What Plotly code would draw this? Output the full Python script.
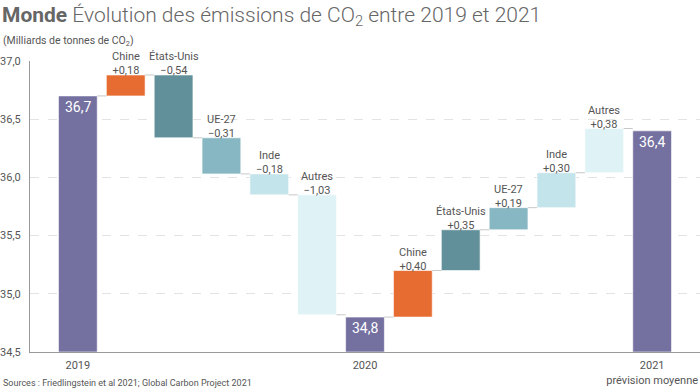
import plotly.graph_objects as go

categories = ["2019", "Chine", "États-Unis", "UE-27", "Inde", "Autres",
              "2020", "Chine", "États-Unis", "UE-27", "Inde", "Autres", "2021"]
kinds = ["total", "delta", "delta", "delta", "delta", "delta",
         "total", "delta", "delta", "delta", "delta", "delta", "total"]
values = [36.7, 0.18, -0.54, -0.31, -0.18, -1.03,
          34.8, 0.40, 0.35, 0.19, 0.30, 0.38, 36.4]
tick_vals_idx = [0, 6, 12]
tick_labels = ["2019", "2020", "2021<br>prévision moyenne"]

color_map = {
    "total": "#7470a0",
    "Chine": "#e66c32",
    "États-Unis": "#62909a",
    "UE-27": "#87b7c2",
    "Inde": "#c3e4ea",
    "Autres": "#dff2f6",
}

ymin = 34.5
GRAY = "#555555"
FONT = "Roboto"

W, H = 700, 391
ML, MR, MT, MB = 30, 0, 61, 39
PW, PH = W - ML - MR, H - MT - MB


def px_x(p):
    return (p - ML) / PW


def px_y(p):
    return (H - MB - p) / PH


bases, heights, colors, tops = [], [], [], []
level = 0.0
for cat, kind, v in zip(categories, kinds, values):
    if kind == "total":
        level = v
        bases.append(ymin)
        heights.append(v - ymin)
        colors.append(color_map["total"])
        tops.append(v)
    else:
        bases.append(level)
        heights.append(v)
        colors.append(color_map[cat])
        tops.append(max(level, level + v))
        level = level + v

x = list(range(len(categories)))

fig = go.Figure()
fig.add_trace(go.Bar(
    x=x, y=heights, base=bases,
    marker=dict(color=colors, line=dict(color="rgba(255,255,255,0.6)", width=1)),
    width=0.81, hoverinfo="skip", showlegend=False,
))

# connectors
ends = []
lvl = 0.0
for kind, v in zip(kinds, values):
    lvl = v if kind == "total" else lvl + v
    ends.append(lvl)
half = 0.405
for i in range(len(categories) - 1):
    y_c = ends[i]
    fig.add_trace(go.Scatter(
        x=[i + half, i + 1 - half], y=[y_c, y_c], mode="lines",
        line=dict(color="#c8c8c8", width=1), hoverinfo="skip", showlegend=False,
    ))


def fmt(v, signed=False):
    s = f"{abs(v):.2f}" if signed else f"{v:.1f}"
    s = s.replace(".", ",")
    if signed:
        s = ("+" if v >= 0 else "\u2212") + s
    return s


annotations = []
for i, (cat, kind, v) in enumerate(zip(categories, kinds, values)):
    if kind == "total":
        annotations.append(dict(
            x=i, y=v, xref="x", yref="y", text=fmt(v), showarrow=False,
            yanchor="top", yshift=-1, font=dict(color="white", size=14, family=FONT),
        ))
    else:
        annotations.append(dict(
            x=i, y=tops[i], xref="x", yref="y", text=f"{cat}<br>{fmt(v, True)}",
            showarrow=False, yanchor="bottom", yshift=-4,
            font=dict(color=GRAY, size=11, family=FONT),
        ))

annotations.append(dict(
    x=px_x(0), y=px_y(1), xref="paper", yref="paper", xanchor="left", yanchor="top",
    text="<b>Monde</b> Évolution des émissions de CO<sub>2</sub> entre 2019 et 2021",
    showarrow=False, font=dict(color="#666666", size=21, family=FONT, weight=300),
))
annotations.append(dict(
    x=px_x(1), y=px_y(32), xref="paper", yref="paper", xanchor="left", yanchor="top",
    text="(Milliards de tonnes de CO<sub>2</sub>)", showarrow=False,
    font=dict(color=GRAY, size=10.5, family=FONT),
))
annotations.append(dict(
    x=px_x(1), y=px_y(390), xref="paper", yref="paper", xanchor="left", yanchor="bottom",
    text="Sources : Friedlingstein et al 2021; Global Carbon Project 2021",
    showarrow=False, font=dict(color=GRAY, size=9, family=FONT),
))

fig.update_layout(
    width=W, height=H,
    margin=dict(l=ML, r=MR, t=MT, b=MB, autoexpand=False),
    paper_bgcolor="white", plot_bgcolor="white",
    separators=", ",
    font=dict(family=FONT, color=GRAY, size=11),
    bargap=0.19,
    xaxis=dict(
        range=[-1, 13], tickmode="array", tickvals=tick_vals_idx, ticktext=tick_labels,
        showgrid=False, zeroline=False, showline=True, linecolor="#999999", linewidth=1,
        ticks="", tickfont=dict(size=11, color=GRAY), automargin=False,
        ticklabelstandoff=3,
    ),
    yaxis=dict(
        range=[34.5, 37.0], tickvals=[34.5, 35.0, 35.5, 36.0, 36.5, 37.0],
        tickformat=".1f", showgrid=True, gridcolor="#e3e3e3", griddash="dash",
        zeroline=False, showline=True, linecolor="#999999", linewidth=1,
        ticks="", tickfont=dict(size=11, color=GRAY), automargin=False,
        ticklabelstandoff=6,
    ),
    annotations=annotations,
)

fig.write_html(
    "out.html",
    config={"displayModeBar": False},
    post_script="document.body.style.margin='0';document.body.style.padding='0';",
)
